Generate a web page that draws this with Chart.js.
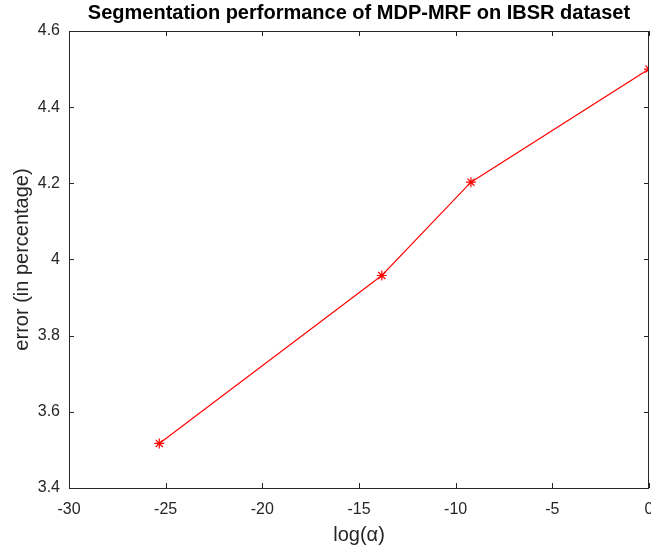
<!DOCTYPE html>
<html>
<head>
<meta charset="utf-8">
<script src="https://cdn.jsdelivr.net/npm/chart.js@4/dist/chart.umd.min.js"></script>
<style>
  html, body { margin: 0; padding: 0; background: #fff; overflow: hidden; }
  #wrap { width: 651px; height: 551px; }
  canvas { display: block; }
</style>
</head>
<body>
<div id="wrap"><canvas id="myChart"></canvas></div>
<script>
// values (x = natural log of alpha)
const logAlpha = [-25.33, -13.82, -9.21, 0];
const errorPct = [3.517, 3.958, 4.203, 4.5];

const xTicks = [-30, -25, -20, -15, -10, -5, 0];
const yTicks = [3.4, 3.6, 3.8, 4, 4.2, 4.4, 4.6];

const titleText = "Segmentation performance of MDP-MRF on IBSR dataset";
const axisColor = "#262626";
const fontFamily = "'Liberation Sans', Arial, Helvetica, sans-serif";

// matlab style box + inward ticks, title centred over the axes
const boxPlugin = {
  id: "boxPlugin",
  afterDraw(chart) {
    const ctx = chart.ctx;
    const a = chart.chartArea;
    const xs = chart.scales.x;
    const ys = chart.scales.y;
    const tl = 5;
    ctx.save();
    ctx.strokeStyle = axisColor;
    ctx.lineWidth = 1;
    ctx.beginPath();
    ctx.rect(Math.round(a.left) + 0.5, Math.round(a.top) + 0.5,
      Math.round(a.right - a.left) - 1, Math.round(a.bottom - a.top));
    xTicks.forEach((v) => {
      const px = Math.round(xs.getPixelForValue(v)) + 0.5;
      ctx.moveTo(px, a.bottom);
      ctx.lineTo(px, a.bottom - tl);
      ctx.moveTo(px, a.top);
      ctx.lineTo(px, a.top + tl);
    });
    yTicks.forEach((v) => {
      const py = Math.round(ys.getPixelForValue(v)) + 0.5;
      ctx.moveTo(a.left, py);
      ctx.lineTo(a.left + tl, py);
      ctx.moveTo(a.right, py);
      ctx.lineTo(a.right - tl, py);
    });
    ctx.stroke();

    ctx.fillStyle = "#000";
    ctx.font = "bold 20px " + fontFamily;
    ctx.textAlign = "center";
    ctx.textBaseline = "middle";
    ctx.fillText(titleText, (a.left + a.right) / 2, 13);
    ctx.restore();
  }
};

const config = {
  type: "line",
  data: {
    datasets: [{
      data: logAlpha.map((x, i) => ({ x: x, y: errorPct[i] })),
      borderColor: "#ff0000",
      backgroundColor: "#ff0000",
      borderWidth: 1.1,
      pointStyle: "star",
      pointRadius: 5,
      pointBorderWidth: 1.2,
      pointBorderColor: "#ff0000",
      tension: 0,
      fill: false,
    }],
  },
  options: {
    responsive: true,
    maintainAspectRatio: false,
    animation: false,
    layout: { autoPadding: false, padding: { top: 31, right: 2, left: 0, bottom: 0 } },
    plugins: {
      legend: { display: false },
      tooltip: { enabled: false },
    },
    scales: {
      x: {
        type: "linear",
        min: -30,
        max: 0,
        grid: { display: false, drawTicks: false },
        border: { display: false },
        afterBuildTicks: (s) => { s.ticks = xTicks.map((v) => ({ value: v })); },
        afterFit: (s) => { s.height = 63; s.paddingLeft = 0; s.paddingRight = 0; },
        ticks: {
          color: axisColor,
          padding: 12,
          maxRotation: 0,
          autoSkip: false,
          font: { family: fontFamily, size: 16 },
          callback: (v) => String(v),
        },
        title: {
          display: true,
          text: "log(\u03b1)",
          color: axisColor,
          padding: { top: 0, bottom: 4 },
          font: { family: fontFamily, size: 20 },
        },
      },
      y: {
        type: "linear",
        min: 3.4,
        max: 4.6,
        grid: { display: false, drawTicks: false },
        border: { display: false },
        afterBuildTicks: (s) => { s.ticks = yTicks.map((v) => ({ value: v })); },
        afterFit: (s) => { s.width = 69; s.paddingTop = 0; s.paddingBottom = 0; },
        ticks: {
          color: axisColor,
          padding: 9,
          autoSkip: false,
          font: { family: fontFamily, size: 16 },
          callback: (v) => String(parseFloat(Number(v).toFixed(2))),
        },
        title: {
          display: true,
          text: "error (in percentage)",
          color: axisColor,
          padding: { top: 10, bottom: 0 },
          font: { family: fontFamily, size: 20 },
        },
      },
    },
  },
  plugins: [boxPlugin],
};

new Chart(document.getElementById("myChart"), config);
</script>
</body>
</html>
